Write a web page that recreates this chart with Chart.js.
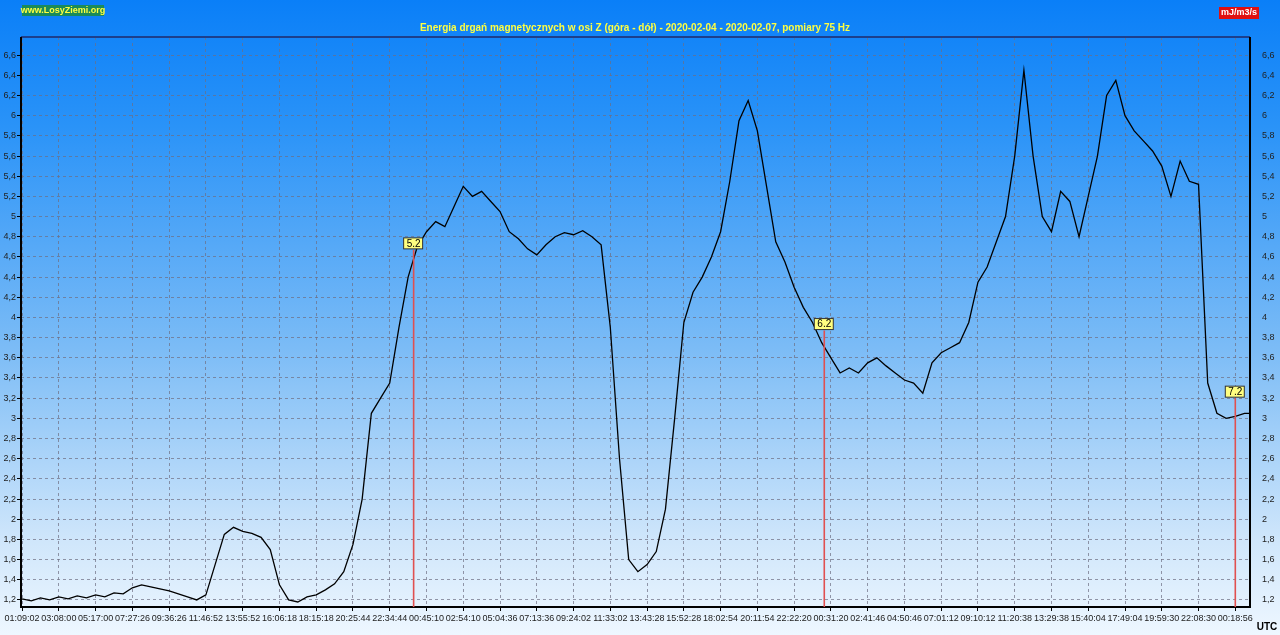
<!DOCTYPE html>
<html><head><meta charset="utf-8">
<script src="https://cdn.jsdelivr.net/npm/chart.js@4/dist/chart.umd.min.js"></script>
<style>
html,body{margin:0;padding:0;width:1280px;height:635px;overflow:hidden;
background:linear-gradient(#0a7ff8 0%,#2a93f8 20%,#7cbcf6 55%,#cfe6fb 85%,#eef7ff 100%);}
canvas{display:block}
</style></head><body>
<canvas id="c" width="1280" height="635"></canvas>
<script>
// Energia drgań - oś Z
const timeLabels = ['01:09:02','03:08:00','05:17:00','07:27:26','09:36:26','11:46:52','13:55:52','16:06:18','18:15:18','20:25:44','22:34:44','00:45:10','02:54:10','05:04:36','07:13:36','09:24:02','11:33:02','13:43:28','15:52:28','18:02:54','20:11:54','22:22:20','00:31:20','02:41:46','04:50:46','07:01:12','09:10:12','11:20:38','13:29:38','15:40:04','17:49:04','19:59:30','22:08:30','00:18:56'];
const yTicks = [1.2,1.4,1.6,1.8,2,2.2,2.4,2.6,2.8,3,3.2,3.4,3.6,3.8,4,4.2,4.4,4.6,4.8,5,5.2,5.4,5.6,5.8,6,6.2,6.4,6.6];
// values every 0.25 of a label interval
const energy = [1.21,1.19,1.22,1.2,1.23,1.21,1.24,1.22,1.25,1.23,1.27,1.26,1.32,1.35,1.33,1.31,1.29,1.26,1.23,1.2,
1.25,1.55,1.85,1.92,1.88,1.86,1.82,1.7,1.35,1.2,1.18,1.23,1.25,1.3,1.36,1.48,1.75,2.2,3.05,3.2,
3.35,3.9,4.4,4.7,4.85,4.95,4.9,5.1,5.3,5.2,5.25,5.15,5.05,4.85,4.78,4.68,4.62,4.72,4.8,4.84,
4.82,4.86,4.8,4.72,3.9,2.6,1.6,1.48,1.55,1.68,2.1,3.0,3.95,4.25,4.4,4.6,4.85,5.35,5.95,6.15,
5.85,5.3,4.75,4.55,4.3,4.1,3.95,3.75,3.6,3.45,3.5,3.45,3.55,3.6,3.52,3.45,3.38,3.35,3.25,3.55,
3.65,3.7,3.75,3.95,4.35,4.5,4.75,5.0,5.6,6.45,5.6,5.0,4.85,5.25,5.15,4.8,5.2,5.6,6.2,6.35,
6.0,5.85,5.75,5.65,5.5,5.2,5.55,5.35,5.32,3.35,3.05,3.0,3.02,3.05,3.05];
const markerX = [10.65, 21.82, 33.0];
const markerTop = [4.67, 3.87, 3.2];
const markerText = ['5.2','6.2','7.2'];

const points = energy.map((v, i) => ({ x: i * 0.25, y: v }));

const decor = {
  id: 'decor',
  afterDraw(chart) {
    const { ctx, chartArea: a, scales: { x, y } } = chart;
    ctx.save();
    ctx.strokeStyle = '#1c3f8c'; ctx.lineWidth = 2;
    ctx.beginPath(); ctx.moveTo(a.left, a.top); ctx.lineTo(a.right, a.top); ctx.stroke();
    ctx.strokeStyle = '#000';
    ctx.beginPath(); ctx.moveTo(a.left, a.top); ctx.lineTo(a.left, a.bottom); ctx.lineTo(a.right, a.bottom); ctx.lineTo(a.right, a.top); ctx.stroke();
    ctx.font = '10px Arial';
    markerX.forEach((mx, i) => {
      const px = x.getPixelForValue(mx), py = y.getPixelForValue(markerTop[i]);
      ctx.strokeStyle = '#e05050'; ctx.lineWidth = 1.6;
      ctx.beginPath(); ctx.moveTo(px, py); ctx.lineTo(px, a.bottom); ctx.stroke();
      ctx.lineWidth = 1;
      ctx.fillStyle = '#ffff80'; ctx.strokeStyle = '#333';
      ctx.fillRect(px - 10, py - 12, 19, 11); ctx.strokeRect(px - 10, py - 12, 19, 11);
      ctx.fillStyle = '#000'; ctx.textAlign = 'center'; ctx.textBaseline = 'middle';
      ctx.fillText(markerText[i], px, py - 6);
    });
    ctx.font = 'bold 10px Arial'; ctx.textAlign = 'center'; ctx.textBaseline = 'middle';
    ctx.fillStyle = '#ffff40';
    ctx.fillText('Energia drgań magnetycznych w osi Z (góra - dół) - 2020-02-04 - 2020-02-07, pomiary 75 Hz', 635, 28);
    ctx.font = 'bold 9px Arial';
    ctx.fillStyle = '#1a8a5a'; ctx.fillRect(22, 5, 82, 11);
    ctx.fillStyle = '#ffff40'; ctx.fillText('www.LosyZiemi.org', 63, 11);
    ctx.fillStyle = '#e01010'; ctx.fillRect(1219, 7, 40, 12);
    ctx.fillStyle = '#fff'; ctx.fillText('mJ/m3/s', 1239, 13);
    ctx.font = 'bold 10px Arial';
    ctx.fillStyle = '#000'; ctx.fillText('UTC', 1267, 627);
    ctx.restore();
  }
};

const grid = { color: 'rgba(110,110,130,0.7)', lineWidth: 1, drawTicks: true, tickLength: 4, tickColor: '#000' };
const dashed = { display: false, dash: [3, 3] };
const yTickFmt = v => String(v).replace('.', ',');

new Chart(document.getElementById('c'), {
  type: 'line',
  data: { datasets: [{ data: points, borderColor: '#000', borderWidth: 1.3, pointRadius: 0, tension: 0 }] },
  options: {
    responsive: false, animation: false,
    layout: { padding: { top: 37, right: 0, left: 0, bottom: 0 } },
    plugins: { legend: { display: false }, tooltip: { enabled: false } },
    scales: {
      x: {
        type: 'linear', min: -0.03, max: 33.4,
        afterBuildTicks: s => { s.ticks = timeLabels.map((_, i) => ({ value: i })); },
        afterFit: s => { s.height = 28; },
        ticks: { autoSkip: false, maxRotation: 0, color: '#222', font: { size: 9, family: 'Arial' }, padding: 2,
          callback: (v) => timeLabels[v] },
        grid: grid, border: dashed
      },
      y: {
        min: 1.13, max: 6.78,
        afterBuildTicks: s => { s.ticks = yTicks.map(v => ({ value: v })); },
        afterFit: s => { s.width = 21; },
        ticks: { color: '#222', font: { size: 9, family: 'Arial' }, padding: 1, callback: yTickFmt },
        grid: grid, border: dashed
      },
      y2: {
        position: 'right', min: 1.13, max: 6.78,
        afterBuildTicks: s => { s.ticks = yTicks.map(v => ({ value: v })); },
        afterFit: s => { s.width = 30; },
        ticks: { color: '#222', font: { size: 9, family: 'Arial' }, padding: 4, callback: yTickFmt },
        grid: { display: false }, border: { display: false }
      }
    }
  },
  plugins: [decor]
});
</script>
</body></html>
